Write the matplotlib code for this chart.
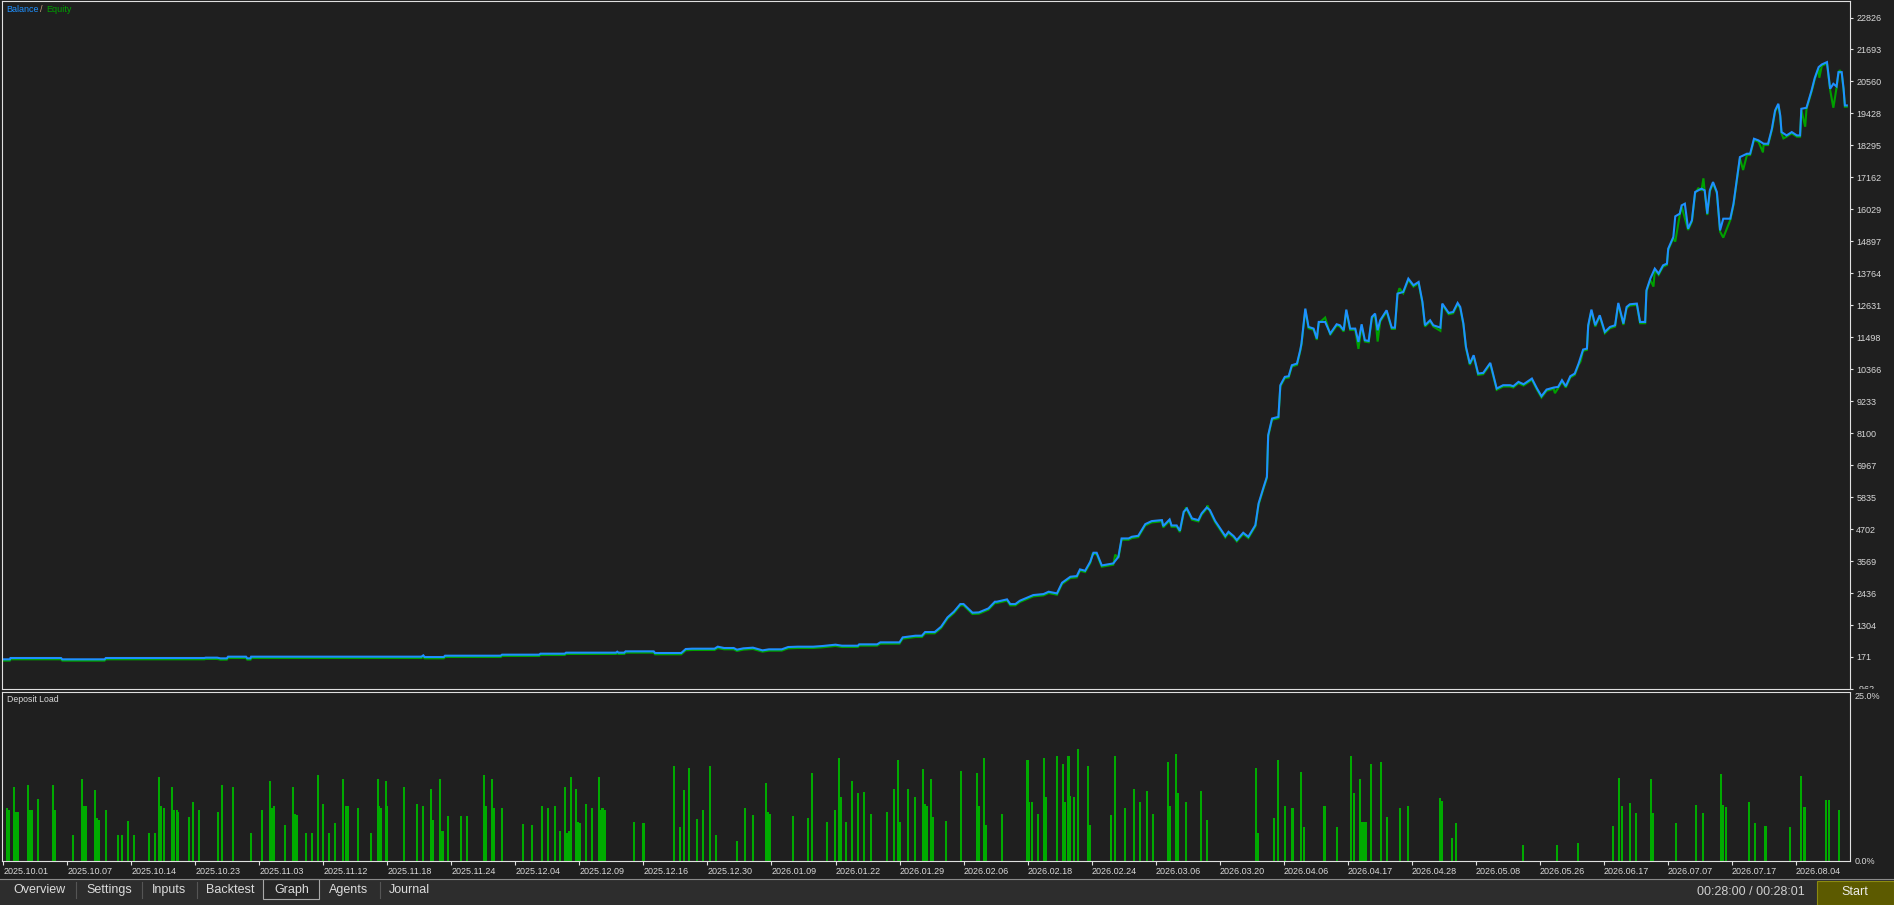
import matplotlib
matplotlib.use("Agg")
import matplotlib.pyplot as plt
from matplotlib import transforms
from matplotlib.patches import Rectangle
from matplotlib.lines import Line2D
from matplotlib.transforms import Bbox, TransformedBbox

plt.rcParams['font.family'] = ['Liberation Sans', 'DejaVu Sans']

# x positions are in units of the date-label slots (0 = 2025.10.01 ... 28 = 2026.08.04)
date_labels = ["2025.10.01", "2025.10.07", "2025.10.14", "2025.10.23", "2025.11.03",
               "2025.11.12", "2025.11.18", "2025.11.24", "2025.12.04", "2025.12.09",
               "2025.12.16", "2025.12.30", "2026.01.09", "2026.01.22", "2026.01.29",
               "2026.02.06", "2026.02.18", "2026.02.24", "2026.03.06", "2026.03.20",
               "2026.04.06", "2026.04.17", "2026.04.28", "2026.05.08", "2026.05.26",
               "2026.06.17", "2026.07.07", "2026.07.17", "2026.08.04"]

y_tick_vals = [-962, 171, 1304, 2436, 3569, 4702, 5835, 6967, 8100, 9233, 10366,
               11498, 12631, 13764, 14897, 16029, 17162, 18295, 19428, 20560,
               21693, 22826]

balance_x = [0.00, 0.10, 0.11, 0.90, 0.92, 1.58, 1.60, 3.14, 3.16, 3.34, 3.39, 3.49,
             3.51, 3.79, 3.81, 3.86, 3.87, 6.53, 6.56, 6.58, 6.88, 6.90, 7.77, 7.79,
             8.37, 8.39, 8.77, 8.79, 9.57, 9.59, 9.61, 9.70, 9.72, 10.16, 10.18, 10.59,
             10.66, 10.76, 11.11, 11.16, 11.26, 11.41, 11.46, 11.56, 11.71, 11.86, 11.96,
             12.16, 12.26, 12.41, 12.65, 12.80, 13.00, 13.10, 13.35, 13.37, 13.65, 13.70,
             14.00, 14.05, 14.25, 14.35, 14.40, 14.55, 14.65, 14.75, 14.85, 14.95, 15.00,
             15.14, 15.24, 15.39, 15.49,
             15.52, 15.68, 15.73, 15.81, 15.88, 16.09, 16.25, 16.33, 16.46, 16.54, 16.67,
             16.77, 16.82, 16.90, 16.98, 17.03, 17.08, 17.16, 17.34, 17.42, 17.47, 17.58,
             17.63, 17.73, 17.84, 17.94, 18.10, 18.12, 18.22, 18.25, 18.33, 18.38, 18.44,
             18.49, 18.57, 18.67, 18.72, 18.80, 18.85, 18.93, 19.01, 19.09, 19.14, 19.22,
             19.27, 19.37, 19.45, 19.56, 19.61, 19.69, 19.74, 19.76, 19.82, 19.92, 19.95,
             20.02, 20.08, 20.13, 20.21, 20.26,
             20.28, 20.34, 20.39, 20.47, 20.52, 20.55, 20.65, 20.73, 20.83, 20.88, 20.94,
             20.98, 21.04, 21.12, 21.17, 21.22, 21.27, 21.33, 21.38, 21.43, 21.47, 21.51,
             21.61, 21.69, 21.74, 21.78, 21.87, 21.95, 22.03, 22.11, 22.17, 22.21, 22.29,
             22.34, 22.45, 22.48, 22.58, 22.65, 22.72, 22.76, 22.81, 22.85, 22.91, 22.97,
             23.04, 23.12, 23.23, 23.33, 23.43, 23.54, 23.59, 23.67, 23.75, 23.88, 23.96,
             24.03, 24.11, 24.22, 24.29, 24.35, 24.41, 24.48, 24.55, 24.61, 24.68, 24.74,
             24.76, 24.81, 24.87, 24.94, 25.02, 25.10, 25.18, 25.23, 25.31, 25.36, 25.41,
             25.52, 25.57, 25.65, 25.67,
             25.73, 25.80, 25.86, 25.93, 25.99, 26.01, 26.09, 26.12, 26.19, 26.22, 26.27,
             26.32, 26.38, 26.43, 26.53, 26.58, 26.62, 26.66, 26.71, 26.77, 26.82, 26.87,
             26.98, 27.03, 27.08, 27.13, 27.24, 27.29, 27.35, 27.42, 27.50, 27.57, 27.63,
             27.68, 27.73, 27.76, 27.78, 27.86, 27.94, 28.02, 28.07, 28.09, 28.17, 28.25,
             28.30, 28.36, 28.41, 28.49, 28.54, 28.59, 28.64, 28.67, 28.72, 28.75, 28.77,
             28.80]
balance_y = [88, 88, 135, 135, 88, 88, 135, 135, 147, 147, 123, 123,
             182, 182, 123, 123, 182, 182, 229, 170, 170, 217, 217, 253,
             253, 288, 288, 324, 324, 359, 324, 324, 371, 371, 312, 312,
             453, 465, 465, 536, 489, 489, 430, 477, 501, 406, 442,
             442, 524, 536, 536, 560, 607, 571, 571, 619, 619, 689,
             689, 866, 925, 925, 1055, 1055, 1244, 1574, 1775, 2046, 2046,
             1740, 1751, 1893, 2129,
             2129, 2212, 2046, 2046, 2164, 2365, 2400, 2483, 2424, 2802, 3014,
             3038, 3274, 3226, 3545, 3864, 3864, 3415, 3486, 3722, 4371, 4371,
             4430, 4465, 4878, 4985, 5020, 4808, 5044, 4831, 4831, 4642, 5315,
             5433, 5079, 5020, 5256, 5468, 5374, 4996, 4725, 4454, 4607, 4454,
             4312, 4572, 4430, 4843, 5610, 6200, 6554, 8029, 8619, 8678, 9799,
             10094, 10118, 10507, 10566, 11038,
             11274, 12513, 11864, 11805, 11451, 12041, 12041, 11628, 11958, 11923, 11746,
             12478, 11805, 11805, 11333, 11958, 11392, 11368, 12218, 12336, 11746, 12100,
             12454, 11840, 11840, 13044, 13103, 13575, 13339, 13457, 12749, 11923, 12100,
             11923, 11840, 12690, 12360, 12395, 12714, 12572, 11982, 11156, 10566, 10861,
             10212, 10236, 10590, 9681, 9799, 9799, 9764, 9917, 9834, 10035, 9681,
             9410, 9646, 9716, 9740, 9976, 9764, 10118, 10212, 10566, 11062, 11097,
             11923, 12478, 11923, 12277, 11687, 11864, 11923, 12714, 11982, 12572, 12666,
             12690, 12041, 12041, 13162,
             13575, 13929, 13752, 14047, 14106, 14637, 15050, 15782, 15876, 16171, 16230,
             15345, 15640, 16643, 16761, 16702, 15876, 16702, 16997, 16643, 15286, 15699,
             15699, 16230, 17056, 17882, 18000, 18000, 18531, 18472, 18354, 18354, 18885,
             19534, 19770, 19357, 18767, 18649, 18767, 18649, 18649, 19593, 19628, 20242,
             20690, 21068, 21162, 21245, 20301, 20478, 20384, 20891, 20891, 20301, 19711,
             19711]

# floating equity where it departs from balance
equity_x = [17.02, 17.37, 18.48, 18.81, 20.65, 21.17, 21.47, 21.81, 22.45, 24.24,
            24.64, 25.78, 26.12, 26.27, 26.48, 26.56, 26.87, 27.18, 27.49, 27.81,
            28.15, 28.37, 28.59, 28.69]
equity_y = [3900, 3840, 5516, 5586, 12242, 11132, 11392, 13280, 11770, 9563,
            10684, 13339, 14932, 15758, 16820, 17174, 15074, 17469, 18094, 18590,
            19003, 20738, 19676, 21009]

load_x = [0.05, 0.08, 0.16, 0.18, 0.22, 0.39, 0.41, 0.45, 0.54, 0.78, 0.81, 1.08,
          1.23, 1.26, 1.29, 1.43, 1.46, 1.49, 1.60, 1.79, 1.85, 1.95, 2.04, 2.28,
          2.37, 2.43, 2.46, 2.51, 2.64, 2.67, 2.71, 2.73, 2.90, 2.96, 3.06, 3.35,
          3.42, 3.59, 3.87, 4.04, 4.17, 4.20, 4.23, 4.40, 4.52, 4.55, 4.59, 4.73,
          4.82, 4.91, 5.00, 5.09, 5.18, 5.31, 5.35, 5.38, 5.54, 5.74, 5.85, 5.87,
          5.90, 5.97, 6.00, 6.26, 6.46, 6.56, 6.68, 6.71, 6.82, 6.86, 6.95, 7.15,
          7.24, 7.51, 7.54, 7.63, 7.67, 7.79, 8.12, 8.26, 8.42, 8.51, 8.62, 8.69,
          8.77, 8.80, 8.83, 8.87, 8.95, 8.98, 9.01, 9.10, 9.20,
          9.30, 9.33, 9.36, 9.38, 9.40, 9.85, 10.00, 10.48, 10.57, 10.64, 10.71, 10.83,
          10.93, 11.04, 11.14, 11.46, 11.59, 11.71, 11.91, 11.94, 11.98, 12.34, 12.57,
          12.64, 12.87, 12.99, 13.06, 13.09, 13.17, 13.26, 13.35, 13.45, 13.56, 13.81,
          13.92, 13.98, 14.01, 14.13, 14.24, 14.37, 14.40, 14.43, 14.49, 14.53, 14.73,
          14.96, 15.21, 15.24, 15.32, 15.35,
          15.60, 16.00, 16.03, 16.07, 16.17, 16.26, 16.29, 16.46, 16.55, 16.58, 16.64,
          16.67, 16.72, 16.79, 16.94, 16.97, 17.30, 17.37, 17.53, 17.66, 17.76, 17.86,
          17.96, 18.19, 18.22, 18.32, 18.35, 18.47, 18.71, 18.81, 19.57, 19.60, 19.85,
          19.92, 20.02, 20.14, 20.28, 20.32, 20.64, 20.84, 21.06, 21.10, 21.19, 21.21,
          21.24, 21.27, 21.29, 21.36, 21.52, 21.61, 21.82, 21.94,
          22.44, 22.47, 22.63, 22.69, 23.74, 24.27, 24.60, 25.14, 25.24, 25.29, 25.41,
          25.50, 25.74, 25.77, 26.13, 26.45, 26.55, 26.84, 26.87, 26.91, 27.27, 27.36,
          27.53, 27.92, 28.08, 28.13, 28.15, 28.48, 28.52, 28.68]
load_h = [7.9, 7.5, 11.0, 7.3, 7.2, 11.3, 7.6, 7.5, 9.1, 11.2, 7.5, 3.9,
          12.1, 8.1, 8.1, 10.5, 6.3, 6.0, 7.5, 3.9, 3.9, 5.9, 3.9, 4.2,
          4.2, 12.5, 8.2, 7.9, 11.0, 7.5, 7.5, 7.3, 6.5, 8.7, 7.5, 7.3,
          11.3, 11.0, 4.2, 7.5, 11.8, 7.9, 8.1, 5.3, 11.0, 6.9, 6.8, 4.2,
          4.2, 12.7, 8.5, 4.2, 5.6, 12.2, 8.2, 8.1, 7.9, 4.2, 12.2, 8.2,
          7.9, 11.9, 8.2, 11.0, 8.5, 8.1, 10.7, 6.0, 12.2, 4.5, 6.6, 6.6,
          6.6, 12.7, 8.1, 12.1, 7.8, 7.9, 5.4, 5.3, 8.1, 7.9, 8.2, 4.5,
          11.0, 4.2, 4.4, 12.5, 10.6, 5.7, 5.6, 8.4, 7.8,
          12.4, 7.6, 7.8, 7.5, 7.5, 5.7, 5.6, 14.1, 5.0, 10.5, 13.7, 6.2,
          7.5, 14.0, 3.9, 2.9, 7.9, 6.8, 11.5, 7.3, 7.0, 6.6, 6.3,
          13.0, 5.7, 7.6, 15.2, 9.4, 5.7, 11.9, 10.0, 10.2, 6.9, 7.2,
          10.7, 14.9, 5.7, 10.6, 9.4, 13.6, 8.4, 8.1, 12.2, 6.5, 5.9,
          13.3, 13.0, 8.1, 15.2, 5.3,
          7.0, 15.0, 8.8, 8.7, 6.9, 15.3, 9.4, 15.6, 14.3, 8.7, 15.6,
          9.6, 9.4, 16.5, 14.1, 5.3, 6.8, 15.5, 7.9, 10.6, 8.7, 10.3,
          7.0, 14.6, 8.2, 15.9, 10.0, 8.7, 10.3, 6.0, 13.7, 4.2, 6.3,
          14.9, 8.1, 7.9, 13.1, 5.1, 8.2, 5.0, 15.6, 10.0, 12.1, 5.7,
          5.7, 5.7, 5.7, 14.3, 14.6, 6.5, 7.9, 8.1,
          9.3, 8.9, 3.4, 5.6, 2.4, 2.4, 2.7, 5.2, 12.3, 8.1, 8.6,
          7.1, 12.1, 7.1, 5.6, 8.3, 7.1, 12.9, 8.3, 8.0, 8.7, 5.6,
          5.2, 5.0, 12.6, 8.0, 8.0, 9.0, 9.0, 7.5]

tab_names = ["Overview", "Settings", "Inputs", "Backtest", "Graph", "Agents", "Journal"]

BG = '#1f1f1f'
FRAME = '#e0e0e0'
TXT = '#d8d8d8'
BLUE = '#1e90ff'
GREEN = '#00a000'
BAR_GREEN = '#00aa00'

W, H = 1894, 905


def fx(px):
    return px / W


def fy(py):
    return 1 - py / H


def rect(left, top, right, bottom):
    return [fx(left), fy(bottom), fx(right) - fx(left), fy(top) - fy(bottom)]


fig = plt.figure(figsize=(W / 100, H / 100), dpi=100, facecolor=BG)

xmin, xmax = -0.03, 28.85

# ---- balance / equity panel
ax = fig.add_axes(rect(1.5, 1.5, 1850, 689))
ax.set_facecolor(BG)
eq = dict(zip(balance_x, balance_y))
eq.update(zip(equity_x, equity_y))
eq_x = sorted(eq)
eq_y = [eq[k] for k in eq_x]
shifted = transforms.offset_copy(ax.transData, fig=fig, x=0, y=-1.3, units='dots')
ax.plot(eq_x, eq_y, color=GREEN, lw=1.5, transform=shifted, solid_joinstyle='miter')
ax.plot(balance_x, balance_y, color=BLUE, lw=1.5, solid_joinstyle='miter')
ax.set_xlim(xmin, xmax)
ax.set_ylim(-963, 23393)
ax.set_xticks([])
ax.yaxis.tick_right()
ax.set_yticks(y_tick_vals)
ax.set_yticklabels([str(v) for v in y_tick_vals])
ax.tick_params(axis='y', colors=FRAME, labelcolor=TXT, length=2.5, width=0.8,
               pad=2, labelsize=6.5)
for s in ax.spines.values():
    s.set_color(FRAME)
    s.set_linewidth(0.8)
clip = TransformedBbox(Bbox.from_extents(0, fy(689), 1, 1), fig.transFigure)
for t in ax.get_yticklabels():
    t.set_clip_box(clip)
    t.set_clip_on(True)

fig.text(fx(6), fy(9.5), "Balance", color=BLUE, fontsize=6.5, va='center')
fig.text(fx(40), fy(9.5), "/", color='#c8a080', fontsize=6.5, va='center')
fig.text(fx(46), fy(9.5), "Equity", color=GREEN, fontsize=6.5, va='center')

# ---- deposit load panel
axl = fig.add_axes(rect(1.5, 692, 1850, 861))
axl.set_facecolor(BG)
axl.bar(load_x, load_h, width=0.032, color=BAR_GREEN, linewidth=0)
axl.set_xlim(xmin, xmax)
axl.set_ylim(0, 25)
axl.set_yticks([])
axl.set_xticks(range(len(date_labels)))
axl.set_xticklabels(date_labels, ha='left')
axl.tick_params(axis='x', colors=FRAME, labelcolor=TXT, length=3, width=0.8,
                pad=1, labelsize=6.5)
for s in axl.spines.values():
    s.set_color(FRAME)
    s.set_linewidth(0.8)
lbl_tr = transforms.offset_copy(
    transforms.blended_transform_factory(axl.transAxes, axl.transData),
    fig=fig, x=5, y=0, units='dots')
axl.text(1.0, 25, "25.0%", transform=lbl_tr, color=TXT, fontsize=6.5,
         va='top', ha='left', clip_on=False)
axl.text(1.0, 0, "0.0%", transform=lbl_tr, color=TXT, fontsize=6.5,
         va='center', ha='left', clip_on=False)
axl.text(0.003, 0.955, "Deposit Load", transform=axl.transAxes, color=TXT,
         fontsize=6.3, va='center', ha='left')

# ---- bottom tab bar
fig.add_artist(Rectangle((0, 0), 1, fy(878.5), transform=fig.transFigure,
                         facecolor='#2d2d2d', edgecolor='none'))
fig.add_artist(Line2D([0, 1], [fy(878.5)] * 2, transform=fig.transFigure,
                      color='#8a8a8a', lw=0.8))
tab_x = [13, 86, 152, 206, 274, 329, 389]
for sep in [76, 142, 197, 380]:
    fig.add_artist(Line2D([fx(sep)] * 2, [fy(882), fy(898)], transform=fig.transFigure,
                          color='#555555', lw=0.8))
fig.add_artist(Rectangle((fx(263), fy(899)), fx(319) - fx(263), fy(878.5) - fy(899),
                         transform=fig.transFigure, facecolor='#262626',
                         edgecolor='#a8a8a8', lw=0.8))
for name, tx in zip(tab_names, tab_x):
    fig.text(fx(tx), fy(890), name, color='#dcdcdc', fontsize=9, va='center', ha='left')

fig.text(fx(1697), fy(892), "00:28:00 / 00:28:01", color='#cfcfcf', fontsize=9,
         va='center', ha='left')
fig.add_artist(Rectangle((fx(1817), 0), fx(1894) - fx(1817), fy(881),
                         transform=fig.transFigure, facecolor='#5c5a00',
                         edgecolor='#8c8a10', lw=0.8))
fig.text(fx(1855), fy(892), "Start", color='#ececec', fontsize=9, va='center', ha='center')

fig.savefig("out.png", dpi=100, facecolor=BG)
